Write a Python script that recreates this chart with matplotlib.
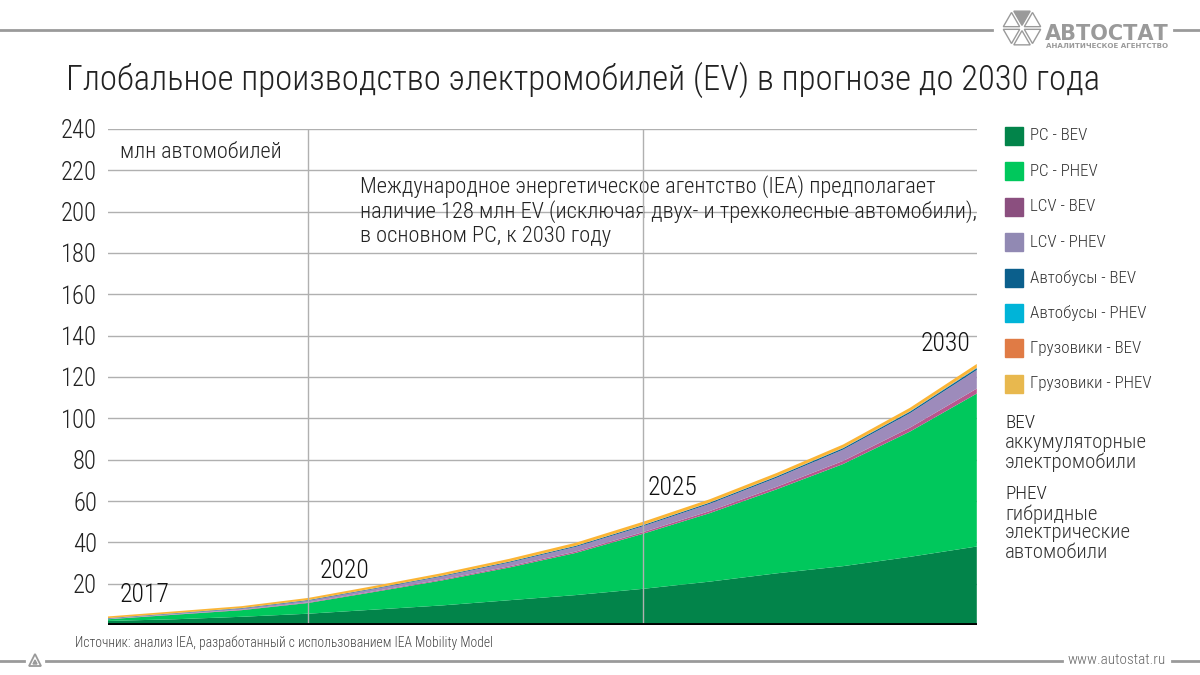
import numpy as np
import matplotlib.pyplot as plt
from matplotlib import font_manager
from matplotlib.patches import Polygon

# шрифт: ищем узкий, иначе обычный
names = {f.name for f in font_manager.fontManager.ttflist}
cond = [f for f in font_manager.fontManager.ttflist
        if f.name == "DejaVu Sans" and "condensed" in str(f.stretch)]
stretch = "normal"
if "Roboto Condensed" in names:
    fam = "Roboto Condensed"
elif "Liberation Sans Narrow" in names:
    fam = "Liberation Sans Narrow"
elif cond:
    fam = "DejaVu Sans"
    stretch = "condensed"
else:
    fam = "Roboto"
plt.rcParams['font.family'] = [fam, 'DejaVu Sans']
plt.rcParams['font.stretch'] = stretch
plt.rcParams['font.weight'] = 'light'

# данные (млн автомобилей)
years = [2017, 2018, 2019, 2020, 2021, 2022, 2023, 2024, 2025, 2026, 2027, 2028, 2029, 2030]
pc_bev = [2.0, 2.8, 4.0, 5.5, 7.5, 9.5, 12.0, 14.5, 17.5, 21.0, 25.0, 28.5, 33.0, 38.0]
pc_phev = [0.8, 2.2, 3.2, 5.2, 8.6, 12.1, 15.8, 20.4, 26.6, 33.1, 40.6, 49.4, 60.6, 74.0]
lcv_bev = [0.1, 0.15, 0.2, 0.3, 0.35, 0.45, 0.55, 0.65, 0.8, 1.0, 1.2, 1.5, 1.9, 2.4]
lcv_phev = [0.25, 0.4, 0.55, 0.8, 1.1, 1.45, 1.85, 2.3, 2.85, 3.5, 4.4, 5.5, 7.0, 9.0]
bus_bev = [0.2, 0.2, 0.25, 0.3, 0.3, 0.35, 0.4, 0.45, 0.5, 0.55, 0.6, 0.65, 0.7, 0.8]
bus_phev = [0.01, 0.01, 0.02, 0.02, 0.03, 0.04, 0.05, 0.06, 0.07, 0.08, 0.1, 0.12, 0.15, 0.2]
truck_bev = [0.01, 0.01, 0.02, 0.02, 0.03, 0.04, 0.05, 0.06, 0.07, 0.08, 0.1, 0.12, 0.15, 0.2]
truck_phev = [0.8, 0.85, 0.9, 1.0, 1.1, 1.2, 1.3, 1.4, 1.5, 1.5, 1.5, 1.55, 1.6, 1.7]

labels = ["PC - BEV", "PC - PHEV", "LCV - BEV", "LCV - PHEV",
          "Автобусы - BEV", "Автобусы - PHEV", "Грузовики - BEV", "Грузовики - PHEV"]
colors = ["#02844a", "#00c85c", "#b9568e", "#9d8bbb",
          "#0b5f8c", "#00b4d8", "#e07b45", "#fbb535"]
legend_colors = ["#02844a", "#00c85c", "#8b4f7f", "#9189b3",
                 "#0b5f8c", "#00b4d8", "#e07b45", "#e8b84e"]

year_marks = [2017, 2020, 2025, 2030]
year_label_pos = [(2017.18, 8.7), (2020.17, 20.3), (2025.08, 60.4), (2029.9, 130)]

fig = plt.figure(figsize=(12, 6.75), dpi=100)
renderer = fig.canvas.get_renderer()


def fit(t, width):
    # подогнать размер шрифта под ширину в пикселях
    w = t.get_window_extent(renderer).width
    t.set_fontsize(t.get_fontsize() * width / w)
    return t.get_fontsize()


def size_for(s, width, **kw):
    t = fig.text(0, 0, s, fontsize=20, **kw)
    fs = fit(t, width)
    t.remove()
    return fs


ax = fig.add_axes([0.09, 0.074, 0.724, 0.735])

ax.stackplot(years, pc_bev, pc_phev, lcv_bev, lcv_phev, bus_bev, bus_phev,
             truck_bev, truck_phev, colors=colors, linewidth=0, zorder=3)

ax.set_xlim(2017, 2030)
ax.set_ylim(0, 240)
ax.set_yticks(range(20, 241, 20))
ax.yaxis.grid(True, color="#b0b0b0", linewidth=1)
ax.set_axisbelow(True)
for x in [2020, 2025]:
    ax.axvline(x, color="#b0b0b0", linewidth=1, zorder=4)
ax.axhline(0, color="black", linewidth=3.5, zorder=5)
ax.set_xticks([])
tick_fs = size_for("240", 36)
ax.tick_params(axis="y", length=0, labelsize=tick_fs, pad=8, labelcolor="#222222")
for s in ax.spines.values():
    s.set_visible(False)

# подписи лет
year_fs = size_for("2030", 50)
for y, (xx, yy) in zip(year_marks, year_label_pos):
    ha = "right" if y == 2030 else "left"
    ax.text(xx, yy, str(y), fontsize=year_fs, ha=ha, va="bottom", color="#111111", zorder=6)

t = ax.text(2017.18, 228.7, "млн автомобилей", fontsize=15, va="center", color="#222222")
fit(t, 162)
note = ["Международное энергетическое агентство (IEA) предполагает",
        "наличие 128 млн EV (исключая двух- и трехколесные автомобили),",
        "в основном PC, к 2030 году"]
note_fs = size_for(note[1], 615)
for i, line in enumerate(note):
    ax.text(2020.77, 212 - i * 11.9, line, fontsize=note_fs, va="center", color="#222222")

# заголовок
t = fig.text(66 / 1200, 1 - 80 / 675,
             "Глобальное производство электромобилей (EV) в прогнозе до 2030 года",
             fontsize=29, va="center", ha="left", color="#222222")
fit(t, 1034)

# легенда
leg_fs = size_for("Грузовики - PHEV", 122)
for i, (lab, c) in enumerate(zip(labels, legend_colors)):
    yy = 1 - (136 + i * 35.4) / 675
    fig.patches.append(plt.Rectangle((1005 / 1200, yy - 9 / 675), 18 / 1200, 18 / 675,
                                     transform=fig.transFigure, color=c))
    fig.text(1030 / 1200, yy, lab, fontsize=leg_fs, va="center", color="#333333")

big_fs = size_for("PHEV", 42)
small_fs = size_for("аккумуляторные", 142)
fig.text(1005 / 1200, 1 - 423 / 675, "BEV", fontsize=big_fs, va="center", color="#222222")
for i, s in enumerate(["аккумуляторные", "электромобили"]):
    fig.text(1005 / 1200, 1 - (443 + i * 19) / 675, s, fontsize=small_fs,
             va="center", color="#333333")
fig.text(1005 / 1200, 1 - 494 / 675, "PHEV", fontsize=big_fs, va="center", color="#222222")
for i, s in enumerate(["гибридные", "электрические", "автомобили"]):
    fig.text(1005 / 1200, 1 - (514 + i * 19) / 675, s, fontsize=small_fs,
             va="center", color="#333333")

# источник
t = fig.text(75 / 1200, 1 - 643 / 675,
             "Источник: анализ IEA, разработанный с использованием IEA Mobility Model",
             fontsize=10, va="center", color="#444444")
fit(t, 416)

# рамка: линии сверху и снизу
gray = "#9a9a9a"
fig.add_artist(plt.Line2D([0, 992 / 1200], [1 - 30 / 675] * 2, color=gray, linewidth=2))
fig.add_artist(plt.Line2D([1174 / 1200, 1], [1 - 30 / 675] * 2, color=gray, linewidth=2))
fig.add_artist(plt.Line2D([0, 24 / 1200], [1 - 661 / 675] * 2, color=gray, linewidth=2))
fig.add_artist(plt.Line2D([46 / 1200, 1062 / 1200], [1 - 661 / 675] * 2, color=gray, linewidth=2))
fig.add_artist(plt.Line2D([1172 / 1200, 1], [1 - 661 / 675] * 2, color=gray, linewidth=2))
t = fig.text(1067 / 1200, 1 - 660 / 675, "www.autostat.ru", fontsize=10, ha="left",
             va="center", color="#666666")
fit(t, 98)


def px(x, y):
    return (x / 1200, 1 - y / 675)


# маленький треугольник внизу
fig.patches.append(Polygon([px(29, 666), px(41, 666), px(35, 654)], closed=True, fill=False,
                           edgecolor=gray, linewidth=1.3, transform=fig.transFigure))
fig.patches.append(Polygon([px(33, 664), px(37, 664), px(35, 660)], closed=True, fill=True,
                           color=gray, transform=fig.transFigure))

# логотип: шестиугольник из треугольников
cx, cy, r = 1022, 28, 21
for k in range(6):
    a1 = np.deg2rad(60 * k)
    a2 = np.deg2rad(60 * (k + 1))
    p = np.array([[cx, cy], [cx + r * np.cos(a1), cy - r * np.sin(a1)],
                  [cx + r * np.cos(a2), cy - r * np.sin(a2)]])
    c0 = p.mean(axis=0)
    p = c0 + (p - c0) * 0.78
    pts = [px(a, b) for a, b in p]
    if k == 1:
        fig.patches.append(Polygon(pts, closed=True, facecolor=gray, edgecolor=gray,
                                   linewidth=1, transform=fig.transFigure))
    else:
        fig.patches.append(Polygon(pts, closed=True, facecolor="white", edgecolor=gray,
                                   linewidth=1, transform=fig.transFigure))
t = fig.text(1045 / 1200, 1 - 34 / 675, "АВТОСТАТ", fontsize=17, fontweight="bold",
             va="center", color=gray, family=["DejaVu Sans"], stretch="normal")
fit(t, 124)
t = fig.text(1046 / 1200, 1 - 46 / 675, "АНАЛИТИЧЕСКОЕ АГЕНТСТВО", fontsize=6.2,
             fontweight="bold", va="center", color=gray, family=["DejaVu Sans"],
             stretch="normal")
fit(t, 122)

fig.savefig("out.png", dpi=100)
